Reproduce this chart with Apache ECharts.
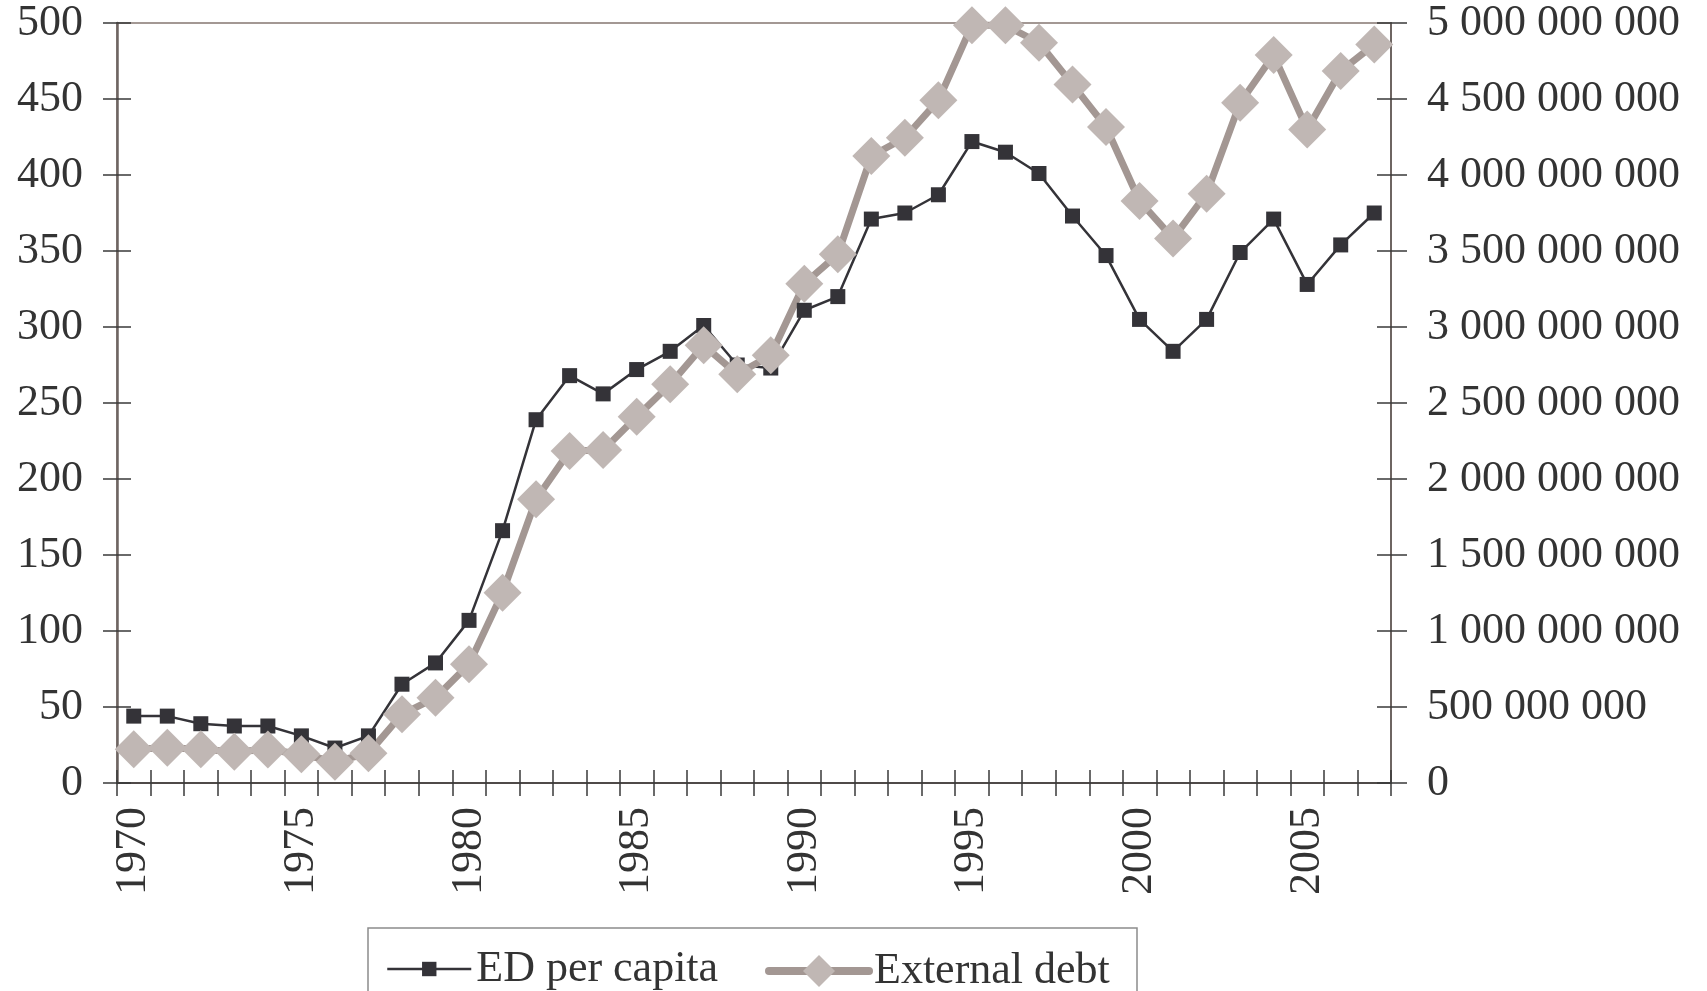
<!DOCTYPE html>
<html>
<head>
<meta charset="utf-8">
<title>ED per capita / External debt</title>
<script src="https://cdn.jsdelivr.net/npm/echarts@6/dist/echarts.min.js"></script>
<style>
	html, body { margin: 0; padding: 0; background: #fff; }
	#main { width: 1707px; height: 991px; }
</style>
</head>
<body>
<div id="main"></div>
<script>
var years = ['1970','1971','1972','1973','1974','1975','1976','1977','1978','1979',
	'1980','1981','1982','1983','1984','1985','1986','1987','1988','1989',
	'1990','1991','1992','1993','1994','1995','1996','1997','1998','1999',
	'2000','2001','2002','2003','2004','2005','2006','2007'];

// ED per capita (left axis)
var edPerCapita = [44, 44, 39, 37.5, 37.5, 31, 23, 31, 65, 79,
	107, 166, 239, 268, 256, 272, 284, 301, 275, 273,
	311, 320, 371, 375, 387, 422, 415, 401, 373, 347,
	305, 284, 305, 349, 371, 328, 354, 375];

// External debt (right axis)
var externalDebt = [222000000, 232000000, 222000000, 206000000, 220000000, 189000000, 140000000, 195000000, 452000000, 561000000,
	781000000, 1252000000, 1866000000, 2184000000, 2190000000, 2410000000, 2623000000, 2880000000, 2689000000, 2814000000,
	3285000000, 3478000000, 4125000000, 4245000000, 4491000000, 4985000000, 4985000000, 4870000000, 4596000000, 4316000000,
	3829000000, 3583000000, 3877000000, 4476000000, 4789000000, 4300000000, 4684000000, 4859000000];

var leftTicks = [0, 500, 50];
var rightTicks = [0, 5000000000, 500000000];

var FONT = 'Liberation Serif';
var FS = 44;
var TXT = '#333333';

var myChart = echarts.init(document.getElementById('main'));

function spaced(v){
	return String(v).replace(/\B(?=(\d{3})+(?!\d))/g, ' ');
}

var tickStyle = {color: '#3a3a3a', width: 1.5};

var option = {
	animation: false,
	backgroundColor: '#ffffff',
	grid: {
		left: 117, right: 316, top: 23, bottom: 208,
		show: true, borderColor: '#a39894', borderWidth: 2, backgroundColor: 'transparent'
	},
	legend: [{
		data: ['ED per capita'],
		left: 386, top: 947, padding: 0,
		itemWidth: 84, itemHeight: 18,
		lineStyle: {width: 2.5, color: '#343338'},
		textStyle: {fontFamily: FONT, fontSize: FS, color: TXT}
	}, {
		data: ['External debt'],
		left: 765, top: 949, padding: 0,
		itemWidth: 100, itemHeight: 40,
		lineStyle: {width: 8, color: '#a39793', cap: 'round'},
		textStyle: {fontFamily: FONT, fontSize: FS, color: TXT}
	}],
	graphic: [{
		type: 'rect',
		shape: {x: 368, y: 928, width: 769, height: 90},
		style: {fill: 'none', stroke: '#8c8c8c', lineWidth: 1.5},
		silent: true
	}],
	xAxis: [{
		type: 'category',
		data: years,
		position: 'bottom',
		boundaryGap: true,
		axisLine: {lineStyle: {color: '#4f4a48', width: 2}},
		axisTick: {show: true, interval: 0, length: 13, lineStyle: tickStyle},
		axisLabel: {interval: 4, rotate: 90, margin: 24, fontFamily: FONT, fontSize: FS, color: TXT}
	}, {
		type: 'category',
		data: years,
		position: 'bottom',
		boundaryGap: true,
		axisLine: {show: false},
		axisTick: {show: true, inside: true, interval: 0, length: 13, lineStyle: tickStyle},
		axisLabel: {show: false}
	}],
	yAxis: [{
		type: 'value',
		position: 'left',
		min: leftTicks[0], max: leftTicks[1], interval: leftTicks[2],
		splitLine: {show: false},
		axisLine: {show: true, lineStyle: {color: '#6e6562', width: 2.5}},
		axisTick: {show: true, length: 14, lineStyle: tickStyle},
		axisLabel: {margin: 34, fontFamily: FONT, fontSize: FS, color: TXT}
	}, {
		type: 'value',
		position: 'right',
		min: rightTicks[0], max: rightTicks[1], interval: rightTicks[2],
		splitLine: {show: false},
		axisLine: {show: true, lineStyle: {color: '#6e6562', width: 2}},
		axisTick: {show: true, length: 16, lineStyle: tickStyle},
		axisLabel: {margin: 36, fontFamily: FONT, fontSize: FS, color: TXT, formatter: spaced}
	}, {
		type: 'value',
		position: 'left',
		min: leftTicks[0], max: leftTicks[1], interval: leftTicks[2],
		splitLine: {show: false},
		axisLine: {show: false},
		axisTick: {show: true, inside: true, length: 14, lineStyle: tickStyle},
		axisLabel: {show: false}
	}, {
		type: 'value',
		position: 'right',
		min: rightTicks[0], max: rightTicks[1], interval: rightTicks[2],
		splitLine: {show: false},
		axisLine: {show: false},
		axisTick: {show: true, inside: true, length: 14, lineStyle: tickStyle},
		axisLabel: {show: false}
	}],
	series: [{
		name: 'ED per capita',
		type: 'line',
		xAxisIndex: 0,
		yAxisIndex: 0,
		data: edPerCapita,
		symbol: 'rect',
		symbolSize: 15,
		showAllSymbol: true,
		clip: false,
		itemStyle: {color: '#343338'},
		lineStyle: {color: '#343338', width: 2.5}
	}, {
		name: 'External debt',
		type: 'line',
		xAxisIndex: 0,
		yAxisIndex: 1,
		data: externalDebt,
		symbol: 'diamond',
		symbolSize: 38,
		showAllSymbol: true,
		clip: false,
		itemStyle: {color: '#c0b7b4'},
		lineStyle: {color: '#a39793', width: 7}
	}]
};
myChart.setOption(option);
</script>
</body>
</html>
